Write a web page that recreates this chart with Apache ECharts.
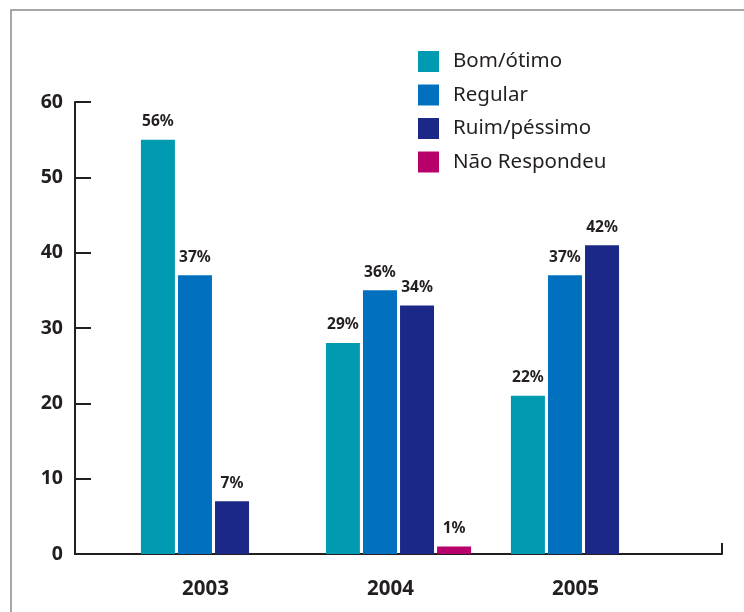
<!DOCTYPE html>
<html>
<head>
<meta charset="utf-8">
<script src="https://cdn.jsdelivr.net/npm/echarts@6/dist/echarts.min.js"></script>
<style>
  html, body { margin: 0; padding: 0; background: #fff; }
  #chart { width: 744px; height: 612px; }
</style>
</head>
<body>
<div id="chart"></div>
<script>
// data
const years = ["2003", "2004", "2005"];
const seriesNames = ["Bom/ótimo", "Regular", "Ruim/péssimo", "Não Respondeu"];
const bomOtimo = [55, 28, 21];
const regular = [37, 35, 37];
const ruimPessimo = [7, 33, 41];
const naoRespondeu = [null, 1, null];
// printed labels over the bars
const bomLabels = ["56%", "29%", "22%"];
const regularLabels = ["37%", "36%", "37%"];
const ruimLabels = ["7%", "34%", "42%"];
const naoLabels = ["", "1%", ""];
const yTicks = [0, 10, 20, 30, 40, 50, 60];

const colors = ["#009bb0", "#0070bf", "#1b2887", "#b8006b"];
const ink = "#231f20";
const font = "Noto Sans";

function makeSeries(name, values, labels, color) {
  return {
    name: name,
    type: "bar",
    xAxisIndex: 0,
    yAxisIndex: 0,
    barWidth: 34,
    barGap: "9%",
    itemStyle: { color: color },
    label: {
      show: true,
      position: "top",
      distance: 10,
      color: ink,
      fontFamily: font,
      fontWeight: "bold",
      fontSize: 15.5,
      formatter: p => labels[p.dataIndex]
    },
    data: values
  };
}

const chart = echarts.init(document.getElementById("chart"));
chart.setOption({
  animation: false,
  backgroundColor: "#fff",
  graphic: [
    {
      type: "rect",
      shape: { x: 11, y: 10, width: 800, height: 700 },
      style: { fill: "none", stroke: "#8a8a8a", lineWidth: 1.5 },
      silent: true
    }
  ],
  legend: {
    orient: "vertical",
    left: 413,
    top: 46,
    itemWidth: 21,
    itemHeight: 21,
    itemGap: 12.5,
    icon: "rect",
    data: seriesNames,
    textStyle: { color: ink, fontFamily: font, fontSize: 20.5, padding: [2, 0, 0, 9] }
  },
  grid: [
    { left: 121, right: 68, top: 102, bottom: 58 },
    { left: 75, right: 22, top: 102, bottom: 58 }
  ],
  xAxis: [
    {
      type: "category",
      gridIndex: 0,
      data: years,
      axisLine: { show: false },
      axisTick: { show: false },
      axisLabel: {
        margin: 25,
        color: ink,
        fontFamily: font,
        fontWeight: "bold",
        fontSize: 20.5,
        padding: [0, 16, 0, 0]
      }
    },
    {
      type: "value",
      gridIndex: 1,
      min: 0,
      max: 1,
      interval: 1,
      axisLine: { show: true, lineStyle: { color: ink, width: 2 } },
      axisTick: { show: true, inside: true, length: 11, lineStyle: { color: ink, width: 2 } },
      axisLabel: { show: false },
      splitLine: { show: false }
    }
  ],
  yAxis: [
    {
      type: "value",
      gridIndex: 0,
      min: yTicks[0],
      max: yTicks[yTicks.length - 1],
      interval: 10,
      offset: 46,
      axisLine: { show: true, lineStyle: { color: ink, width: 2 } },
      axisTick: { show: true, inside: true, length: 16, lineStyle: { color: ink, width: 2 } },
      axisLabel: {
        margin: 12,
        color: ink,
        fontFamily: font,
        fontWeight: "bold",
        fontSize: 19.5
      },
      splitLine: { show: false }
    },
    {
      type: "value",
      gridIndex: 1,
      show: false
    }
  ],
  series: [
    makeSeries(seriesNames[0], bomOtimo, bomLabels, colors[0]),
    makeSeries(seriesNames[1], regular, regularLabels, colors[1]),
    makeSeries(seriesNames[2], ruimPessimo, ruimLabels, colors[2]),
    makeSeries(seriesNames[3], naoRespondeu, naoLabels, colors[3])
  ]
});
</script>
</body>
</html>
